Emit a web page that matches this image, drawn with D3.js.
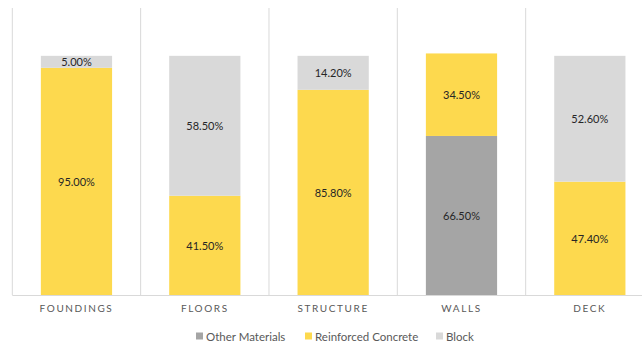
<!DOCTYPE html>
<html>
<head>
<meta charset="utf-8">
<script src="https://cdn.jsdelivr.net/npm/d3@7"></script>
<style>
  html, body { margin: 0; padding: 0; background: #fff; }
  svg { display: block; }
  text { font-family: Lato, "Open Sans", sans-serif; }
</style>
</head>
<body>
<svg id="chart" width="642" height="345"></svg>
<script>
// Share of each material by building element (percent)
const categories = ["FOUNDINGS", "FLOORS", "STRUCTURE", "WALLS", "DECK"];
const seriesNames = ["Other Materials", "Reinforced Concrete", "Block"];
const otherMaterials = [0, 0, 0, 66.5, 0];
const reinforcedConcrete = [95.0, 41.5, 85.8, 34.5, 47.4];
const block = [5.0, 58.5, 14.2, 0, 52.6];
const seriesColors = ["#A5A5A5", "#FDD94E", "#D9D9D9"];
const yMax = 120;

const svg = d3.select("#chart");
const width = 642, height = 345;

const plot = { left: 12.3, right: 654, top: 8, bottom: 295 };

const rows = categories.map((c, i) => ({
  category: c,
  "Other Materials": otherMaterials[i],
  "Reinforced Concrete": reinforcedConcrete[i],
  "Block": block[i]
}));

const stacked = d3.stack().keys(seriesNames)(rows);

const x = d3.scaleBand().domain(categories).range([plot.left, plot.right]).padding(0);
const y = d3.scaleLinear().domain([0, yMax]).range([plot.bottom, plot.top]);
const color = d3.scaleOrdinal().domain(seriesNames).range(seriesColors);

const barFrac = 0.555;
const barW = x.bandwidth() * barFrac;
const barX = c => x(c) + (x.bandwidth() - barW) / 2;

// vertical category gridlines
const bounds = categories.map(c => x(c)).concat([plot.right]);
svg.append("g")
  .selectAll("line")
  .data(bounds)
  .join("line")
  .attr("x1", d => d).attr("x2", d => d)
  .attr("y1", plot.top).attr("y2", plot.bottom)
  .attr("stroke", "#D9D9D9").attr("stroke-width", 1);

// stacked bars
const layers = svg.append("g")
  .selectAll("g")
  .data(stacked)
  .join("g")
  .attr("fill", d => color(d.key));

layers.selectAll("rect")
  .data(d => d.filter(s => s[1] - s[0] > 0))
  .join("rect")
  .attr("x", d => barX(d.data.category))
  .attr("width", barW)
  .attr("y", d => y(d[1]))
  .attr("height", d => y(d[0]) - y(d[1]));

// category axis
const xAxis = svg.append("g")
  .attr("transform", `translate(0,${plot.bottom})`)
  .call(d3.axisBottom(x).tickSize(0).tickPadding(10));
xAxis.select(".domain").attr("stroke", "#D9D9D9").attr("d", `M${plot.left},0.5H${plot.right}`);
xAxis.selectAll("text")
  .attr("fill", "#595959")
  .style("font-size", "10px")
  .style("letter-spacing", "1.6px")
  .attr("font-family", null);

// data labels
const fmt = v => v.toFixed(2) + "%";
layers.selectAll("text")
  .data(d => d.filter(s => s[1] - s[0] > 0))
  .join("text")
  .attr("x", d => barX(d.data.category) + barW / 2)
  .attr("y", d => (y(d[0]) + y(d[1])) / 2)
  .attr("text-anchor", "middle")
  .attr("dominant-baseline", "central")
  .attr("fill", "#262626")
  .style("font-size", "11px")
  .text(d => fmt(d[1] - d[0]));

// legend
const legendX = [196, 305, 436];
const legend = svg.append("g")
  .selectAll("g")
  .data(seriesNames)
  .join("g")
  .attr("transform", (d, i) => `translate(${legendX[i]},336)`);
legend.append("rect")
  .attr("x", 0).attr("y", -3.5)
  .attr("width", 7).attr("height", 7)
  .attr("fill", d => color(d));
legend.append("text")
  .attr("x", 10).attr("y", 0)
  .attr("dominant-baseline", "central")
  .attr("fill", "#595959")
  .style("font-size", "11.5px")
  .text(d => d);
</script>
</body>
</html>
